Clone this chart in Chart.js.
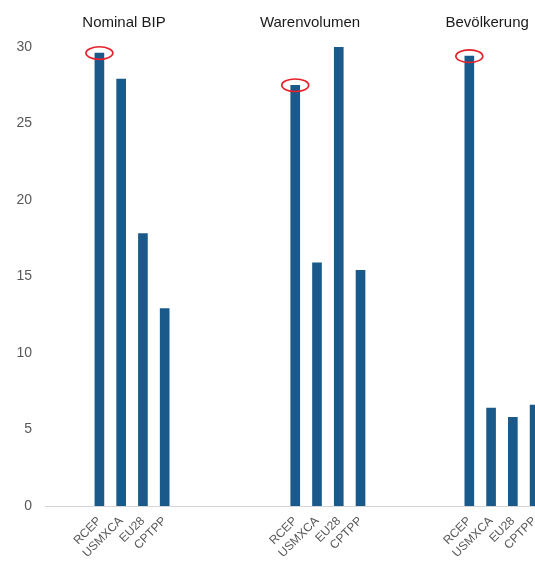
<!DOCTYPE html>
<html>
<head>
<meta charset="utf-8">
<script src="https://cdn.jsdelivr.net/npm/chart.js@4"></script>
<style>
  html, body { margin: 0; padding: 0; background: #fff; overflow: hidden; }
  #wrap { position: relative; width: 589px; height: 561px; }
</style>
</head>
<body>
<div id="wrap"><canvas id="c"></canvas></div>
<script>
const members = ['RCEP', 'USMXCA', 'EU28', 'CPTPP'];
const groupTitles = ['Nominal BIP', 'Warenvolumen', 'Bevölkerung'];
const nominalBip = [29.6, 27.9, 17.8, 12.9];
const warenvolumen = [27.5, 15.9, 30.0, 15.4];
const bevoelkerung = [29.4, 6.4, 5.8, 6.6];
const yTicks = [0, 5, 10, 15, 20, 25, 30];
const circled = 'RCEP';

// empty category slots before, between and after the three groups
const gaps = [2, 5, 4, 2];
// title centre of each group, measured in slots from the group's first bar
const titleOffsets = [1.13, 0.68, 0.82];

const labels = [];
const values = [];
const groupStart = [];
[nominalBip, warenvolumen, bevoelkerung].forEach((series, g) => {
  for (let i = 0; i < gaps[g]; i++) { labels.push(''); values.push(null); }
  groupStart.push(labels.length);
  members.forEach((m, i) => { labels.push(m); values.push(series[i]); });
});
for (let i = 0; i < gaps[3]; i++) { labels.push(''); values.push(null); }

const FONT = '"Liberation Sans", Arial, Helvetica, sans-serif';

const overlay = {
  id: 'overlay',
  afterDatasetsDraw(chart) {
    const ctx = chart.ctx;
    const meta = chart.getDatasetMeta(0);
    ctx.save();
    ctx.strokeStyle = '#e8202a';
    ctx.lineWidth = 1.6;
    labels.forEach((l, i) => {
      if (l !== circled) return;
      const el = meta.data[i];
      ctx.beginPath();
      ctx.ellipse(el.x, el.y, 13.5, 6.3, 0, 0, Math.PI * 2);
      ctx.stroke();
    });
    ctx.restore();
  },
  afterDraw(chart) {
    const xs = chart.scales.x;
    const ctx = chart.ctx;
    const slot = xs.width / labels.length;
    ctx.save();
    ctx.font = '15px ' + FONT;
    ctx.fillStyle = '#1a1a1a';
    ctx.textAlign = 'center';
    ctx.textBaseline = 'alphabetic';
    groupTitles.forEach((t, g) => {
      const px = xs.getPixelForValue(groupStart[g]) + titleOffsets[g] * slot;
      ctx.fillText(t, px, 26.5);
    });
    ctx.restore();
  }
};

new Chart(document.getElementById('c'), {
  type: 'bar',
  data: {
    labels: labels,
    datasets: [{
      data: values,
      backgroundColor: '#1a5a8a',
      barThickness: 9
    }]
  },
  options: {
    responsive: true,
    maintainAspectRatio: false,
    animation: false,
    layout: { padding: { top: 47, left: 0, right: 0, bottom: 0 } },
    plugins: { legend: { display: false }, tooltip: { enabled: false } },
    scales: {
      x: {
        grid: { display: false },
        border: { display: true, color: '#d4d4d4', width: 1 },
        ticks: {
          autoSkip: false,
          minRotation: 45,
          maxRotation: 45,
          color: '#595959',
          padding: 0,
          font: { family: FONT, size: 12 }
        },
        afterFit(s) { s.height = 55; }
      },
      y: {
        min: 0,
        max: 30,
        grid: { display: false },
        border: { display: false },
        afterBuildTicks(s) { s.ticks = yTicks.map(v => ({ value: v })); },
        ticks: {
          color: '#595959',
          padding: 5,
          font: { family: FONT, size: 14 }
        },
        afterFit(s) { s.width = 45; }
      }
    }
  },
  plugins: [overlay]
});
</script>
</body>
</html>
